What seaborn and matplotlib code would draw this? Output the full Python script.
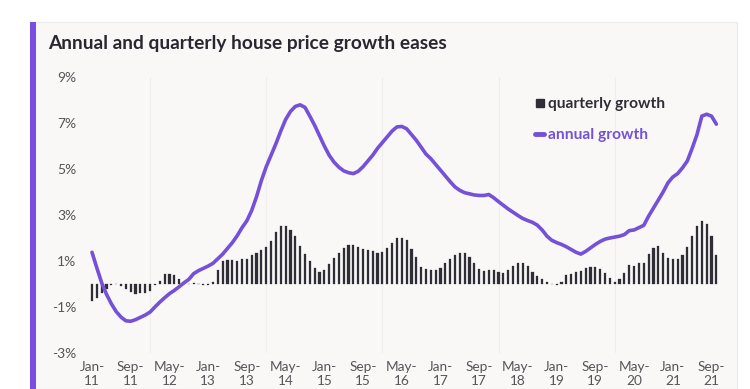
import numpy as np
import pandas as pd
import matplotlib
matplotlib.use("Agg")
import matplotlib.pyplot as plt
from matplotlib.patches import Rectangle
from matplotlib.lines import Line2D
import seaborn as sns

# monthly data, Jan-2011 .. Oct-2021 (%)
annual_growth = [
    1.38, 0.70, 0.05, -0.45, -0.86, -1.20, -1.44, -1.60, -1.62, -1.55, -1.45, -1.35,
    -1.22, -1.00, -0.79, -0.60, -0.42, -0.28, -0.12, 0.05, 0.20, 0.45, 0.58, 0.68,
    0.78, 0.90, 1.10, 1.30, 1.55, 1.80, 2.10, 2.45, 2.75, 3.20, 3.80, 4.50,
    5.10, 5.60, 6.10, 6.65, 7.15, 7.50, 7.72, 7.79, 7.68, 7.30, 6.90, 6.45,
    6.00, 5.60, 5.30, 5.08, 4.92, 4.84, 4.80, 4.90, 5.10, 5.35, 5.60, 5.90,
    6.15, 6.40, 6.65, 6.83, 6.85, 6.75, 6.50, 6.25, 5.95, 5.65, 5.45, 5.20,
    4.95, 4.70, 4.45, 4.22, 4.07, 3.97, 3.92, 3.87, 3.85, 3.85, 3.89, 3.75,
    3.58, 3.42, 3.26, 3.12, 2.98, 2.85, 2.76, 2.68, 2.56, 2.35, 2.08, 1.90,
    1.80, 1.72, 1.62, 1.50, 1.38, 1.30, 1.42, 1.57, 1.72, 1.85, 1.95, 2.00,
    2.04, 2.08, 2.15, 2.32, 2.35, 2.45, 2.55, 2.95, 3.30, 3.65, 4.00, 4.40,
    4.65, 4.80, 5.05, 5.35, 5.90, 6.50, 7.30, 7.38, 7.30, 6.95,
]
quarterly_growth = [
    -0.72, -0.60, -0.40, -0.20, -0.05, 0.00, -0.08, -0.20, -0.35, -0.42, -0.40, -0.38,
    -0.30, -0.03, 0.12, 0.43, 0.43, 0.40, 0.20, 0.05, 0.00, 0.03, 0.00, -0.03,
    -0.05, 0.10, 0.60, 1.00, 1.05, 1.05, 1.02, 1.08, 1.09, 1.24, 1.36, 1.46,
    1.60, 1.89, 2.28, 2.51, 2.51, 2.36, 2.07, 1.67, 1.31, 0.99, 0.70, 0.54,
    0.62, 0.85, 1.12, 1.36, 1.56, 1.70, 1.70, 1.63, 1.51, 1.49, 1.43, 1.34,
    1.37, 1.56, 1.80, 1.98, 1.98, 1.92, 1.53, 1.17, 0.76, 0.64, 0.59, 0.63,
    0.70, 0.91, 1.07, 1.24, 1.36, 1.36, 1.17, 0.92, 0.66, 0.56, 0.59, 0.59,
    0.51, 0.47, 0.62, 0.80, 0.92, 0.92, 0.78, 0.54, 0.34, 0.20, 0.08, -0.02,
    -0.06, 0.08, 0.37, 0.44, 0.54, 0.56, 0.70, 0.73, 0.73, 0.66, 0.50, 0.24,
    0.08, 0.22, 0.47, 0.83, 0.80, 0.91, 0.91, 1.31, 1.57, 1.64, 1.36, 1.14,
    1.09, 1.09, 1.28, 1.60, 2.07, 2.51, 2.76, 2.59, 2.09, 1.24,
]
tick_labels = ["Jan-\n11", "Sep-\n11", "May-\n12", "Jan-\n13", "Sep-\n13", "May-\n14",
               "Jan-\n15", "Sep-\n15", "May-\n16", "Jan-\n17", "Sep-\n17", "May-\n18",
               "Jan-\n19", "Sep-\n19", "May-\n20", "Jan-\n21", "Sep-\n21"]
y_ticks = [-3, -1, 1, 3, 5, 7, 9]

df = pd.DataFrame({"month": np.arange(len(annual_growth)),
                   "annual": annual_growth, "quarterly": quarterly_growth})

purple = "#7550d8"
dark = "#2f2d35"
grey = "#55555a"

sns.set_style("white")
plt.rcParams["font.family"] = ["Lato", "DejaVu Sans"]

W, H = 750, 389
fig = plt.figure(figsize=(W / 100, H / 100), dpi=100)
fig.patch.set_facecolor("white")

# card background + purple accent bar
fig.patches.append(Rectangle((30 / W, 0), 707 / W, 1 - 22 / H, transform=fig.transFigure,
                             facecolor="#f9f8f7", edgecolor="#ebebeb", lw=0.8, zorder=-2))
fig.patches.append(Rectangle((30 / W, 0), 6 / W, 1 - 22 / H, transform=fig.transFigure,
                             facecolor="#7a4fdf", edgecolor="none", zorder=-1))

# axes: x index 0 at 92px, 4.84px per month; y 9% at 77px, -3% at 353px
x0 = 92 - 4.84
x1 = 92 + 4.84 * 131
ax = fig.add_axes([x0 / W, 1 - 353 / H, (x1 - x0) / W, (353 - 77) / H])
ax.set_facecolor("none")

sns.barplot(data=df, x="month", y="quarterly", native_scale=True, color=dark,
            width=0.44, saturation=1, ax=ax, zorder=2,
            edgecolor=dark, linewidth=0.2)
sns.lineplot(data=df, x="month", y="annual", color=purple, lw=2.6, ax=ax, zorder=3)

ax.set_xlim(-1, 131)
ax.set_ylim(-3, 9)
ax.set_xticks(np.arange(0, 8 * len(tick_labels), 8))
ax.set_xticklabels(tick_labels, fontsize=9.8, color=grey, linespacing=1.15)
ax.set_xticks(np.arange(0, 130, 12), minor=True)
ax.set_yticks(y_ticks)
ax.set_yticklabels([f"{v}%" for v in y_ticks], fontsize=10, color=grey)
ax.tick_params(axis="both", which="both", length=0)
ax.tick_params(axis="y", pad=8)
ax.tick_params(axis="x", pad=6)
ax.grid(False)
ax.grid(True, which="minor", axis="x", color="#efeeed", lw=0.8)
ax.set_axisbelow(True)
ax.set_xlabel("")
ax.set_ylabel("")
sns.despine(ax=ax, left=True, bottom=True)

fig.text(48 / W, 1 - 43 / H, "Annual and quarterly house price growth eases",
         fontsize=13.8, fontweight="bold", color="#2a2730", va="center", ha="left")

handles = [Line2D([], [], marker="s", ls="none", color=dark, markersize=6),
           Line2D([], [], color=purple, lw=3.5, solid_capstyle="round")]
leg = ax.legend(handles, ["quarterly growth", "annual growth"], loc="upper left",
                bbox_to_anchor=(529 / W, 1 - 91 / H), bbox_transform=fig.transFigure,
                frameon=False, handlelength=0.55, handletextpad=0.3,
                labelspacing=1.1, labelcolor=[dark, purple], borderaxespad=0,
                prop={"weight": "bold", "size": 11.2})

fig.savefig("out.png", dpi=100, facecolor=fig.get_facecolor())
